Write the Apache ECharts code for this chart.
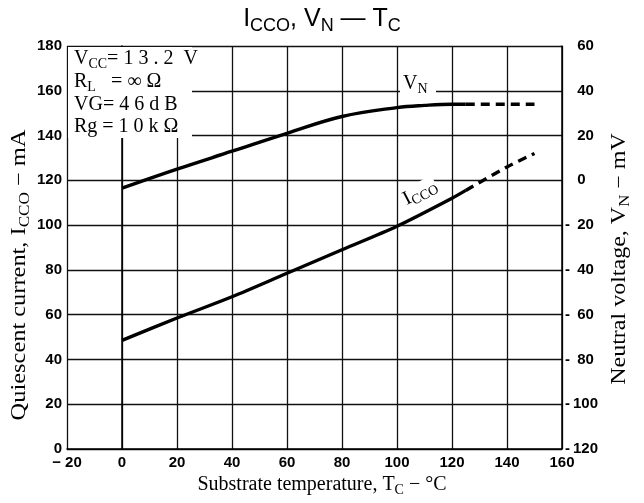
<!DOCTYPE html>
<html>
<head>
<meta charset="utf-8">
<script src="https://cdn.jsdelivr.net/npm/echarts@6/dist/echarts.min.js"></script>
<style>html,body{margin:0;padding:0;background:#fff;}#c{width:644px;height:503px;}</style>
</head>
<body>
<div id="c"></div>
<script>
// ---- data ----
const iccoSolidT = [0, 20, 40, 60, 80, 100, 120, 125];
const iccoSolid  = [48.5, 58.5, 68, 78.5, 89, 99.5, 112, 115.5];
const iccoDashT  = [125, 140, 150];
const iccoDash   = [115.5, 126, 132];
const vnSolidT   = [0, 20, 40, 60, 80, 100, 110, 120, 125];
const vnSolid    = [-3.5, 5, 13, 21, 28.5, 32.5, 33.5, 34, 34];
const vnDashT    = [125, 150];
const vnDash     = [34, 34];
const xTicks = [-20, 0, 20, 40, 60, 80, 100, 120, 140, 160];
const leftTicks = [0, 20, 40, 60, 80, 100, 120, 140, 160, 180];
const rightTicks = [-120, -100, -80, -60, -40, -20, 0, 20, 40, 60];

const pair = (t, v) => t.map((x, i) => [x, v[i]]);
const SERIF = "'Liberation Serif', 'DejaVu Serif', serif";
const SANS = "'Liberation Sans', Arial, sans-serif";
const LBL = { fontFamily: SANS, fontWeight: 'bold', fontSize: 15, color: '#000' };

function sub(size, fam) {
  return {
    m: { fontSize: size, fontFamily: fam, fontWeight: 'normal', color: '#000', lineHeight: size + 4, verticalAlign: 'top' },
    s: { fontSize: Math.round(size * 0.72), fontFamily: fam, fontWeight: 'normal', color: '#000', lineHeight: size + 4,
         padding: [Math.round(size * 0.38), 0, 0, 0], verticalAlign: 'top' }
  };
}

const chart = echarts.init(document.getElementById('c'), null, { renderer: 'canvas' });
const option = {
  backgroundColor: '#fff',
  animation: false,
  title: {
    text: '{m|I}{s|CCO}{m|, V}{s|N}{m| — T}{s|C}',
    left: 'center', top: 2,
    textStyle: { rich: sub(25, SANS) }
  },
  grid: { left: 67, right: 82, top: 46, bottom: 54 },
  xAxis: {
    type: 'value', min: -20, max: 160, interval: 20,
    axisLine: { show: true, lineStyle: { color: '#000', width: 1.5 } },
    axisTick: { show: false },
    splitLine: { show: true, lineStyle: { color: '#111', width: 1.3 } },
    axisLabel: Object.assign({ margin: 6, formatter: v => v < 0 ? '− ' + Math.abs(v) : String(v) }, LBL)
  },
  yAxis: [
    {
      type: 'value', min: 0, max: 180, interval: 20, position: 'left',
      axisLine: { show: true, lineStyle: { color: '#000', width: 1.5 } },
      axisTick: { show: false },
      splitLine: { show: true, lineStyle: { color: '#111', width: 1.3 } },
      axisLabel: Object.assign({ margin: 5 }, LBL)
    },
    {
      type: 'value', min: -120, max: 60, interval: 20, position: 'right',
      axisLine: { show: true, lineStyle: { color: '#000', width: 1.5 } },
      axisTick: { show: false },
      splitLine: { show: false },
      axisLabel: {
        margin: 3,
        formatter: v => v < 0 ? (v <= -100 ? '{d|-}{n|' + Math.abs(v) + '}' : '{d|-}{n| ' + Math.abs(v) + '}') : '{d| }{n| ' + v + '}',
        rich: {
          d: Object.assign({ width: 8, align: 'left' }, LBL),
          n: Object.assign({}, LBL)
        }
      }
    }
  ],
  graphic: [
    { type: 'rect', shape: { x: 68, y: 47, width: 124, height: 91 }, style: { fill: '#fff' }, z: 10 },
    { type: 'text', left: 74, top: 49, z: 11,
      style: { text: '{m|V}{s|CC}{m|= 1 3 . 2  V}', rich: sub(20, SERIF) } },
    { type: 'text', left: 74, top: 72, z: 11,
      style: { text: '{m|R}{s|L}{m|   = ∞ Ω}', rich: sub(20, SERIF) } },
    { type: 'text', left: 74, top: 95, z: 11,
      style: { text: '{m|VG= 4 6 d B}', rich: sub(20, SERIF) } },
    { type: 'text', left: 74, top: 117, z: 11,
      style: { text: '{m|Rg = 1 0 k Ω}', rich: sub(20, SERIF) } },
    { type: 'rect', shape: { x: 400, y: 74, width: 36, height: 24 }, style: { fill: '#fff' }, z: 10 },
    { type: 'text', left: 403, top: 74, z: 11,
      style: { text: '{m|V}{s|N}', rich: sub(20, SERIF) } },
    { type: 'text', x: 421, y: 194, rotation: 0.48, z: 11,
      style: { text: '{m|I}{s|CCO}', rich: sub(20, SERIF), align: 'center', verticalAlign: 'middle',
               backgroundColor: '#fff' } },
    { type: 'text', x: 22, y: 275, rotation: Math.PI / 2, scaleX: 1.22, z: 11,
      style: { text: '{m|Quiescent current, I}{s|CCO}{m| − mA}', rich: sub(20, SERIF), align: 'center', verticalAlign: 'middle' } },
    { type: 'text', x: 622, y: 259, rotation: Math.PI / 2, scaleX: 1.2, z: 11,
      style: { text: '{m|Neutral voltage, V}{s|N}{m| − mV}', rich: sub(20, SERIF), align: 'center', verticalAlign: 'middle' } },
    { type: 'text', x: 322, y: 487, z: 11,
      style: { text: '{m|Substrate temperature, T}{s|C}{m| − °C}', rich: sub(20, SERIF), align: 'center', verticalAlign: 'middle' } }
  ],
  series: [
    { type: 'line', yAxisIndex: 0, data: pair(iccoSolidT, iccoSolid), smooth: 0.3, symbol: 'none',
      lineStyle: { color: '#000', width: 3.4 }, z: 5 },
    { type: 'line', yAxisIndex: 0, data: pair(iccoDashT, iccoDash), smooth: 0.3, symbol: 'none',
      lineStyle: { color: '#000', width: 3.4, type: [9, 6] }, z: 5 },
    { type: 'line', yAxisIndex: 1, data: pair(vnSolidT, vnSolid), smooth: 0.4, symbol: 'none',
      lineStyle: { color: '#000', width: 3.4 }, z: 5 },
    { type: 'line', yAxisIndex: 1, data: pair(vnDashT, vnDash), symbol: 'none',
      lineStyle: { color: '#000', width: 3.4, type: [9, 6] }, z: 5 }
  ]
};
chart.setOption(option);
</script>
</body>
</html>
